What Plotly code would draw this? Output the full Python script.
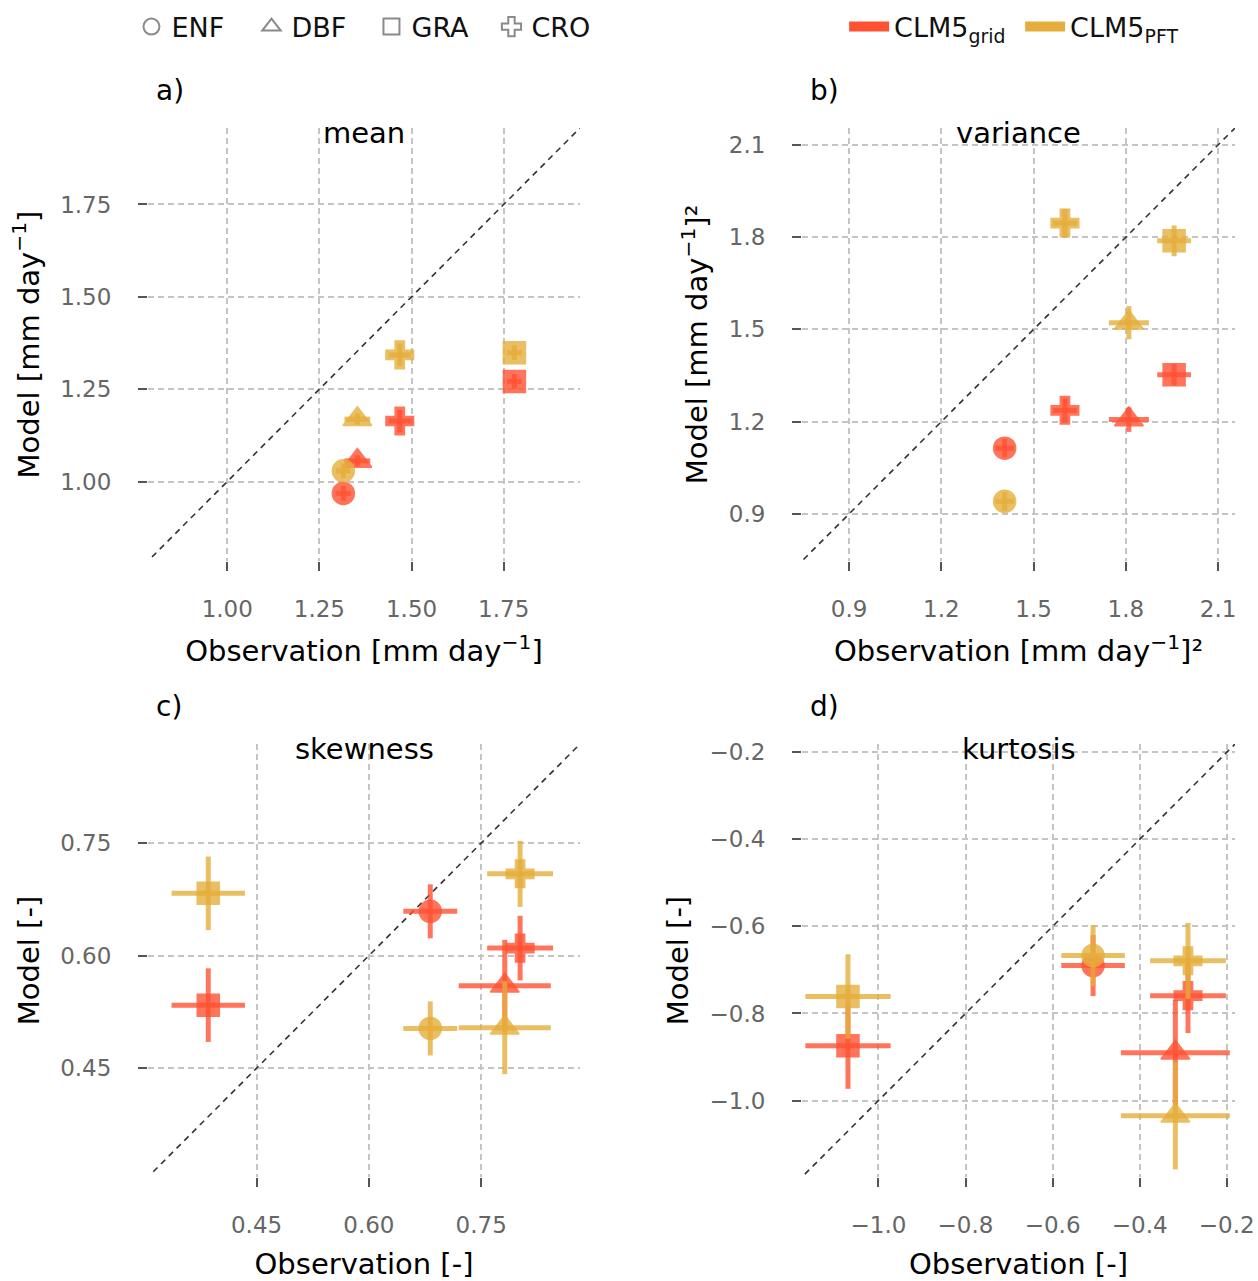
import plotly.graph_objects as go

# ---------------- data ----------------
pfts = ["ENF", "DBF", "GRA", "CRO"]
pft_symbols = ["circle", "triangle-up", "square", "cross"]
legend_symbols = ["circle-open", "triangle-up-open", "square-open", "cross-open"]

# a) mean [mm day-1]
mean_obs = [1.315, 1.353, 1.779, 1.468]
mean_obs_err = [0.02, 0.035, 0.02, 0.03]
mean_grid = [0.968, 1.056, 1.271, 1.164]
mean_grid_err = [0.02, 0.015, 0.02, 0.03]
mean_pft = [1.029, 1.169, 1.349, 1.343]
mean_pft_err = [0.02, 0.015, 0.02, 0.03]

# b) variance [mm day-1]^2
var_obs = [1.406, 1.810, 1.957, 1.602]
var_obs_err = [0.03, 0.065, 0.055, 0.039]
var_grid = [1.114, 1.207, 1.353, 1.237]
var_grid_err = [0.03, 0.04, 0.035, 0.038]
var_pft = [0.941, 1.522, 1.788, 1.846]
var_pft_err = [0.03, 0.054, 0.05, 0.046]

# c) skewness [-]
skew_obs = [0.682, 0.7815, 0.3855, 0.802]
skew_obs_err = [0.036, 0.0615, 0.049, 0.044]
skew_grid = [0.659, 0.560, 0.534, 0.610]
skew_grid_err = [0.036, 0.061, 0.049, 0.043]
skew_pft = [0.503, 0.504, 0.683, 0.709]
skew_pft_err = [0.036, 0.062, 0.049, 0.044]

# d) kurtosis [-]
kurt_obs = [-0.507, -0.318, -1.070, -0.289]
kurt_obs_err = [0.073, 0.125, 0.098, 0.087]
kurt_grid = [-0.690, -0.890, -0.874, -0.759]
kurt_grid_err = [0.07, 0.121, 0.099, 0.086]
kurt_pft = [-0.667, -1.035, -0.761, -0.679]
kurt_pft_err = [0.07, 0.123, 0.097, 0.087]

model_names = ["CLM5<sub>grid</sub>", "CLM5<sub>PFT</sub>"]
model_colors = ["#FF5233", "#E5AE3C"]
model_rgba = ["rgba(255,82,51,0.8)", "rgba(229,174,60,0.8)"]

panel_titles = ["mean", "variance", "skewness", "kurtosis"]
panel_letters = ["a)", "b)", "c)", "d)"]
x_titles = ["Observation [mm day<sup>−1</sup>]", "Observation [mm day<sup>−1</sup>]²",
            "Observation [-]", "Observation [-]"]
y_titles = ["Model [mm day<sup>−1</sup>]", "Model [mm day<sup>−1</sup>]²",
            "Model [-]", "Model [-]"]
axis_ranges = [[0.785, 1.957], [0.747, 2.155], [0.305, 0.882], [-1.1756, -0.181]]
diag_lims = [[0.796, 1.957], [0.752, 2.155], [0.312, 0.882], [-1.169, -0.181]]
tick_steps = [0.25, 0.3, 0.15, 0.2]
tick_formats = [".2f", ".1f", ".2f", ".1f"]

panels = [
    (mean_obs, mean_obs_err, [mean_grid, mean_pft], [mean_grid_err, mean_pft_err]),
    (var_obs, var_obs_err, [var_grid, var_pft], [var_grid_err, var_pft_err]),
    (skew_obs, skew_obs_err, [skew_grid, skew_pft], [skew_grid_err, skew_pft_err]),
    (kurt_obs, kurt_obs_err, [kurt_grid, kurt_pft], [kurt_grid_err, kurt_pft_err]),
]

# ---------------- layout geometry ----------------
W, H = 1258, 1281
FONT = "DejaVu Sans"
x_domains = [[148 / W, 580 / W], [802 / W, 1235 / W]]
y_domains = [[1 - 561 / H, 1 - 128 / H], [1 - 1177 / H, 1 - 744 / H]]
marker_sizes = [22, 25, 22, 23]

fig = go.Figure()

for p, (obs, obs_err, models, models_err) in enumerate(panels):
    xa = "x" if p == 0 else f"x{p + 1}"
    ya = "y" if p == 0 else f"y{p + 1}"
    # 1:1 line
    fig.add_trace(go.Scatter(
        x=diag_lims[p], y=diag_lims[p], mode="lines",
        line=dict(color="#333333", width=1.6, dash="6px,5px"),
        xaxis=xa, yaxis=ya, showlegend=False, hoverinfo="skip"))
    for m in range(2):
        for k in range(len(pfts)):
            fig.add_trace(go.Scatter(
                x=[obs[k]], y=[models[m][k]], mode="markers",
                marker=dict(symbol=pft_symbols[k], size=marker_sizes[k],
                            color=model_colors[m], opacity=0.8,
                            line=dict(color=model_colors[m], width=1.5)),
                error_x=dict(type="data", array=[obs_err[k]], color=model_rgba[m],
                             thickness=5, width=0),
                error_y=dict(type="data", array=[models_err[m][k]], color=model_rgba[m],
                             thickness=5, width=0),
                xaxis=xa, yaxis=ya, showlegend=False,
                name=f"{pfts[k]} {model_names[m]}"))

# legend traces (shape = PFT)
for k in range(len(pfts)):
    fig.add_trace(go.Scatter(
        x=[None], y=[None], mode="markers", name=pfts[k],
        marker=dict(symbol=legend_symbols[k], size=26, color="#8a8a8a",
                    line=dict(color="#8a8a8a", width=2)),
        legend="legend", showlegend=True))
# legend traces (colour = model)
for m in range(2):
    fig.add_trace(go.Scatter(
        x=[None], y=[None], mode="lines", name=model_names[m],
        line=dict(color=model_colors[m], width=14),
        legend="legend2", showlegend=True))

layout = dict(
    width=W, height=H,
    margin=dict(l=0, r=0, t=0, b=0, autoexpand=False),
    paper_bgcolor="white", plot_bgcolor="white",
    font=dict(family=FONT, size=24, color="#000000"),
    legend=dict(orientation="h", x=0.1045, y=0.998, xanchor="left", yanchor="top",
                font=dict(size=27, color="#111111"), itemwidth=30,
                entrywidth=75, entrywidthmode="pixels", bgcolor="rgba(0,0,0,0)",
                tracegroupgap=0),
    legend2=dict(orientation="h", x=0.671, y=0.998, xanchor="left", yanchor="top",
                 font=dict(size=27, color="#111111"), itemwidth=40,
                 entrywidth=121, entrywidthmode="pixels",
                 bgcolor="rgba(0,0,0,0)"),
    annotations=[],
)

for p in range(4):
    r, c = divmod(p, 2)
    sfx = "" if p == 0 else str(p + 1)
    common = dict(
        showline=False, zeroline=False, automargin=False,
        showgrid=True, gridcolor="#c4c4c4", gridwidth=1.6, griddash="6px,4px",
        ticks="outside", ticklen=9, tickwidth=1.6, tickcolor="#555555",
        tickfont=dict(family=FONT, size=23, color="#666666"),
        dtick=tick_steps[p], tick0=0, tickformat=tick_formats[p],
    )
    layout["xaxis" + sfx] = dict(
        common, domain=x_domains[c], range=axis_ranges[p],
        anchor="y" + sfx, ticklabelstandoff=18,
        title=dict(text=x_titles[p], font=dict(family=FONT, size=29, color="#000"),
                   standoff=20))
    layout["yaxis" + sfx] = dict(
        common, domain=y_domains[r], range=axis_ranges[p],
        anchor="x" + sfx, ticklabelstandoff=22,
        title=dict(text=y_titles[p], font=dict(family=FONT, size=29, color="#000"),
                   standoff=12))
    xc = (x_domains[c][0] + x_domains[c][1]) / 2
    layout["annotations"].append(dict(
        text=panel_titles[p], xref="paper", yref="paper", x=xc, y=y_domains[r][1] - 5 / H,
        xanchor="center", yanchor="middle", showarrow=False,
        font=dict(family=FONT, size=29, color="#000")))
    layout["annotations"].append(dict(
        text=panel_letters[p], xref="paper", yref="paper",
        x=x_domains[c][0] + 6 / W, y=y_domains[r][1] + 37 / H,
        xanchor="left", yanchor="middle", showarrow=False,
        font=dict(family=FONT, size=28, color="#000")))

fig.update_layout(layout)
fig.write_html("out.html")
